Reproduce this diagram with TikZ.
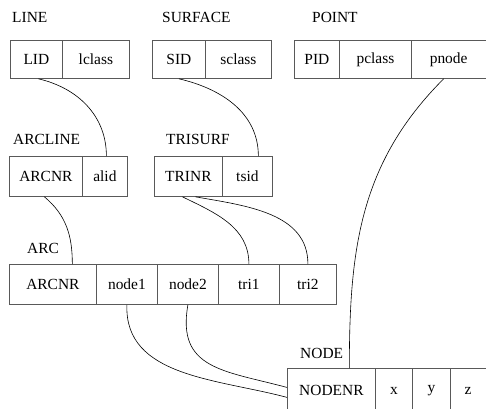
\documentclass[tikz,border=0pt]{standalone}
\usepackage{fontspec}
\setmainfont{Liberation Serif}
\begin{document}
\begin{tikzpicture}[
    x=1bp, y=1bp,
    cell/.style={
        draw=black!65,
        line width=0.8bp,
        anchor=north west,
        inner sep=0pt,
        font=\fontsize{15.5}{17}\selectfont
    },
    tabname/.style={
        anchor=west,
        inner sep=0pt,
        font=\fontsize{15.5}{17}\selectfont
    },
    link/.style={
        line width=0.6bp,
        draw=black
    }
]
    \useasboundingbox (0,0) rectangle (486,-408);

    % top row
    \foreach \x/\w/\id/\txt in {
        10/52/lid/LID, 62/67/lclass/lclass,
        152/53/sid/SID, 205/66/sclass/sclass,
        294/45/pid/PID, 339/72/pclass/pclass, 411/74.5/pnode/pnode
    }{
        \node[cell, minimum width=\w bp, minimum height=38bp] (\id) at (\x,-40) {\txt};
    }

    % middle row
    \foreach \x/\w/\id/\txt in {
        9/73/alnr/ARCNR, 82/45/alid/alid,
        154/68/trinr/TRINR, 222/50/tsid/tsid
    }{
        \node[cell, minimum width=\w bp, minimum height=40bp] (\id) at (\x,-156) {\txt};
    }

    % arc row
    \foreach \x/\w/\id/\txt in {
        9/87/arcnr/ARCNR, 96/61/node1/node1, 157/61/node2/node2,
        218/61/tri1/tri1, 279/57/tri2/tri2
    }{
        \node[cell, minimum width=\w bp, minimum height=40bp] (\id) at (\x,-264) {\txt};
    }

    % node row
    \foreach \x/\w/\id/\txt in {
        287/88/nodenr/NODENR, 375/37/nx/x, 412/38/ny/y, 450/35.5/nz/z
    }{
        \node[cell, minimum width=\w bp, minimum height=45bp] (\id) at (\x,-368) {\txt};
    }

    \node[tabname] (tline) at (12,-17) {LINE};
    \node[tabname] (tsurface) at (162,-17) {SURFACE};
    \node[tabname] (tpoint) at (312,-17) {POINT};
    \node[tabname] (tarcline) at (13,-139) {ARCLINE};
    \node[tabname] (ttrisurf) at (166,-139) {TRISURF};
    \node[tabname] (tarc) at (27,-248) {ARC};
    \node[tabname] (tnode) at (300,-353) {NODE};

    \draw[link] ([xshift=2pt]lid.south) to[out=-13,in=90] ([xshift=1.5pt]alid.north);
    \draw[link] (sid.south) to[out=-13,in=90] ([xshift=11pt]tsid.north);
    \draw[link] ([xshift=-5pt]pnode.south) to[out=-135,in=90] ([xshift=18pt]nodenr.north);
    \draw[link] ([xshift=-1.5pt]alnr.south) to[out=-40,in=90] ([xshift=19.5pt]arcnr.north);
    \draw[link] ([xshift=-6pt]trinr.south) to[out=-26,in=90] (tri1.north);
    \draw[link] ([xshift=7pt]trinr.south) to[out=-10,in=90] (tri2.north);
    \draw[link] (node1.south) to[out=-92,in=165] ([yshift=-6.5pt]nodenr.west);
    \draw[link] (node2.south) to[out=-100,in=165,looseness=1.3] ([yshift=3.5pt]nodenr.west);

\end{tikzpicture}
\end{document}
